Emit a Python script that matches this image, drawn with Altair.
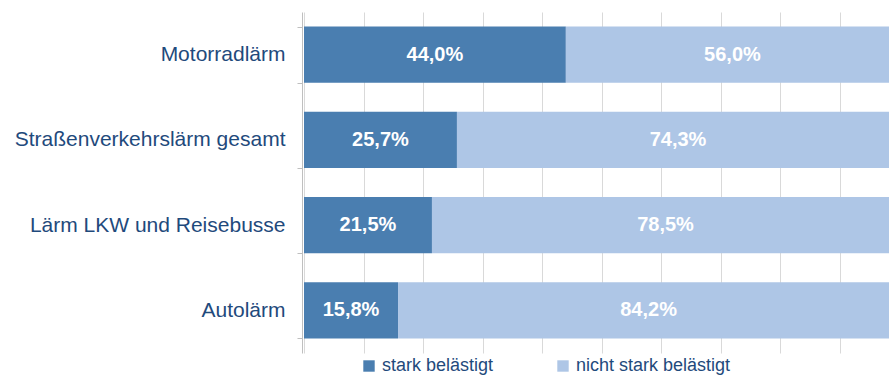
import altair as alt
import pandas as pd

categories = ["Motorradlärm", "Straßenverkehrslärm gesamt", "Lärm LKW und Reisebusse", "Autolärm"]
stark = [44.0, 25.7, 21.5, 15.8]
nicht = [56.0, 74.3, 78.5, 84.2]
series = ["stark belästigt", "nicht stark belästigt"]
colors = ["#4A7EB0", "#AEC6E6"]
grid_values = [0, 10, 20, 30, 40, 50, 60, 70, 80, 90]

rows = []
for c, s, n in zip(categories, stark, nicht):
    rows.append({"cat": c, "series": series[0], "start": 0.0, "end": s, "mid": s / 2,
                 "label": f"{s:.1f}%".replace(".", ",")})
    rows.append({"cat": c, "series": series[1], "start": s, "end": s + n, "mid": s + n / 2,
                 "label": f"{n:.1f}%".replace(".", ",")})
df = pd.DataFrame(rows)

FONT = "Liberation Sans"
TXT = "#1F4A7C"

xscale = alt.Scale(domain=[0, 98.3], clamp=True, nice=False, zero=False)
yscale = alt.Scale(domain=categories, paddingInner=0.343, paddingOuter=0.1715)

base = alt.Chart(df)

bars = base.mark_bar(clip=True).encode(
    y=alt.Y("cat:N", scale=yscale, sort=categories,
            axis=alt.Axis(title=None, labelFont=FONT, labelFontSize=21, labelColor=TXT,
                          labelPadding=12, tickSize=5, tickColor="#BFBFBF", tickBand="extent",
                          domainColor="#BFBFBF", offset=2, labelLimit=300)),
    x=alt.X("start:Q", scale=xscale,
            axis=alt.Axis(title=None, labels=False, ticks=False, domain=False, grid=True,
                          values=grid_values, gridColor="#D9D9D9")),
    x2="end:Q",
    color=alt.Color("series:N", scale=alt.Scale(domain=series, range=colors),
                    legend=alt.Legend(title=None, orient="none", legendX=56, legendY=345,
                                      direction="horizontal", symbolType="square",
                                      symbolSize=130, symbolStrokeWidth=0,
                                      labelFont=FONT, labelFontSize=18, labelColor=TXT,
                                      labelOffset=4, columnPadding=60)),
)

texts = base.mark_text(color="white", font=FONT, fontSize=20, fontWeight="bold").encode(
    y=alt.Y("cat:N", scale=yscale, sort=categories),
    x=alt.X("mid:Q", scale=xscale),
    text="label:N",
)

chart = (bars + texts).properties(
    width=585, height=341,
    padding={"left": 304, "top": 12, "right": 0, "bottom": 28},
    autosize=alt.AutoSizeParams(type="none"),
    background="white",
).configure_view(stroke=None)

chart.save("out.html", embed_options={"renderer": "svg", "actions": False})
